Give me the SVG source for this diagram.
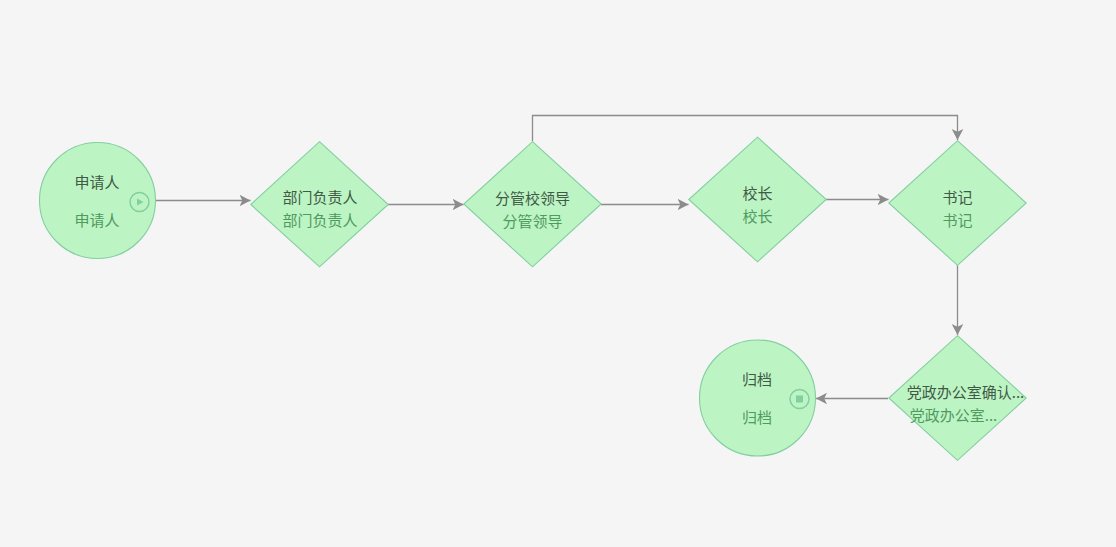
<svg xmlns="http://www.w3.org/2000/svg" width="1116" height="547" viewBox="0 0 1116 547">
<defs>
<style>
.s{fill:#bdf4c4;stroke:#82cfa0;stroke-width:1.1}
.t{font-family:"Noto Sans CJK SC","Noto Sans CJK TC",sans-serif;font-size:15px;text-anchor:middle}
.a{fill:#3f5a45}
.b{fill:#4f9a5f}
.c{fill:none;stroke:#8c8c8c;stroke-width:1.3}
.i{fill:none;stroke:#82cfa0;stroke-width:1.5}
</style>
<marker id="arr" markerUnits="userSpaceOnUse" markerWidth="13" markerHeight="14" refX="11" refY="7" orient="auto"><path d="M0 1.200 L11 7 L0 12.800 L2.800 7Z" fill="#8c8c8c"/></marker>
</defs>
<rect width="1116" height="547" fill="#f5f5f5"/>
<g id="connectors">
<path class="c" marker-end="url(#arr)" d="M156 200.500H250.500"/>
<path class="c" marker-end="url(#arr)" d="M388 204.500H463.500"/>
<path class="c" marker-end="url(#arr)" d="M601 204.500H688.500"/>
<path class="c" marker-end="url(#arr)" d="M826 199.500H888.500"/>
<path class="c" marker-end="url(#arr)" d="M532.500 141V115.500H957.500V140"/>
<path class="c" marker-end="url(#arr)" d="M957.500 265V335"/>
<path class="c" marker-end="url(#arr)" d="M888 398.500H816"/>
</g>
<g id="n1"><circle class="s" cx="97.500" cy="200.500" r="58"/><text class="t a" x="97" y="188">申请人</text><text class="t b" x="97" y="226">申请人</text><circle class="i" cx="139.500" cy="202" r="9.500"/><path d="M137 198.500L143.500 202L137 205.500Z" fill="#82cfa0"/></g>
<g id="n2"><path class="s" d="M319.500 141.700L388.200 204.500L319.500 266.800L250.800 204.500Z"/><text class="t a" x="320" y="203">部门负责人</text><text class="t b" x="320" y="226">部门负责人</text></g>
<g id="n3"><path class="s" d="M532.500 141.700L601.200 204L532.500 266.800L463.800 204Z"/><text class="t a" x="532.500" y="203.500">分管校领导</text><text class="t b" x="532.500" y="226.500">分管领导</text></g>
<g id="n4"><path class="s" d="M757.500 137.200L826.200 199.500L757.500 261.800L688.800 199.500Z"/><text class="t a" x="757.500" y="198.500">校长</text><text class="t b" x="757.500" y="221.500">校长</text></g>
<g id="n5"><path class="s" d="M957.500 140.700L1026.200 203L957.500 265.300L888.800 203Z"/><text class="t a" x="957.500" y="202.500">书记</text><text class="t b" x="957.500" y="225.500">书记</text></g>
<g id="n6"><path class="s" d="M957.500 335.700L1026.200 398L957.500 460.300L888.800 398Z"/><text class="t a" x="965.500" y="397.500">党政办公室确认...</text><text class="t b" x="953.500" y="420.500">党政办公室...</text></g>
<g id="n7"><circle class="s" cx="757.500" cy="398" r="58"/><text class="t a" x="757" y="385">归档</text><text class="t b" x="757" y="423">归档</text><circle class="i" cx="799.500" cy="399" r="9.500"/><rect x="796" y="395.500" width="7" height="7" fill="#82cfa0"/></g>
</svg>
